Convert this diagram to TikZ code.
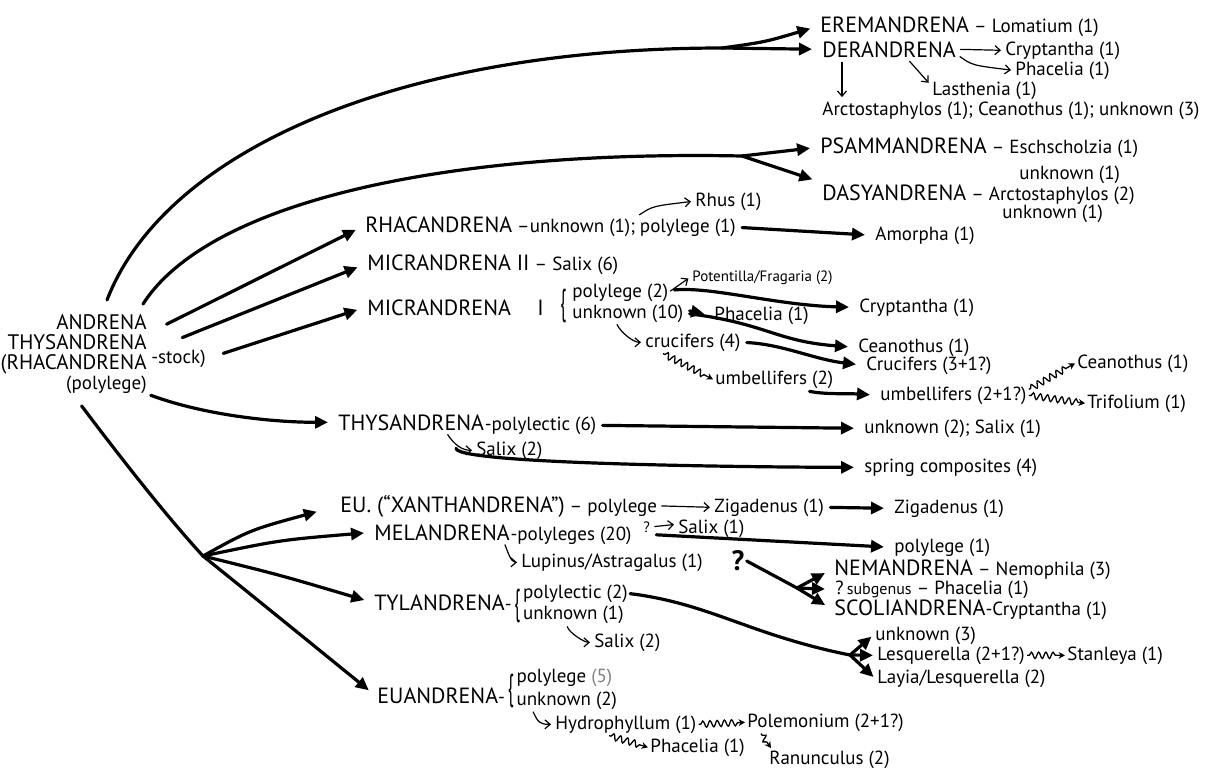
\documentclass[tikz,border=0pt]{standalone}
\usepackage{fontspec}
\setmainfont{PT Sans}
\usetikzlibrary{arrows.meta, positioning, calc, decorations.pathmorphing}

\newcommand{\grp}[1]{{\fontsize{11}{12}\selectfont #1}}
\newcommand{\lbr}{\scalebox{0.9}[1.9]{\{}}

\begin{document}
\begin{tikzpicture}[
    x=0.5pt, y=-0.5pt,
    tx/.style    = {anchor=base west, inner sep=1pt,
                    font=\fontsize{9.5}{11}\selectfont},
    pair/.style  = {tx, inner sep=0pt},
    brc/.style   = {inner sep=0pt, anchor=west,
                    font=\fontsize{9.5}{11}\selectfont},
    stem/.style  = {line width=1.6pt, line cap=round},
    limb/.style  = {stem, -{Triangle[length=6.5pt,width=6pt]},
                    shorten >=4pt, shorten <=2pt},
    twig/.style  = {line width=0.6pt,
                    -{Straight Barb[length=2.6pt,width=4.5pt]},
                    shorten >=1pt, shorten <=1pt},
    wave/.style  = {line width=0.65pt, -{Stealth[length=3.2pt,width=3.4pt]},
                    decorate, decoration={snake, amplitude=1.6pt,
                    segment length=3.6pt, pre length=1pt, post length=3.5pt}}
  ]
  \useasboundingbox (0,0) rectangle (1209,767);

  \node[align=right, anchor=north east, inner sep=0pt,
        font=\fontsize{10.5}{10}\selectfont] (root) at (147,314)
        {ANDRENA\\THYSANDRENA\\(RHACANDRENA\\{\fontsize{9.5}{10}\selectfont(polylege)}};
  \node[tx] (stock) at (149,363) {-stock)};

  \node[tx] (erem)   at (818,32)  {\grp{EREMANDRENA} -- Lomatium (1)};
  \node[tx] (der)    at (820,57)  {\grp{DERANDRENA}};
  \node[tx] (dercry) at (1003,55) {Cryptantha (1)};
  \node[tx] (derpha) at (1013,75) {Phacelia (1)};
  \node[tx] (derlas) at (930,95)  {Lasthenia (1)};
  \node[tx] (derarc) at (820,115) {Arctostaphylos (1); Ceanothus (1); unknown (3)};
  \node[tx] (psam)   at (818,153) {\grp{PSAMMANDRENA} -- Eschscholzia (1)};
  \node[tx] (psamun) at (1017,179) {unknown (1)};
  \node[tx] (dasy)   at (820,200) {\grp{DASYANDRENA} -- Arctostaphylos (2)};
  \node[tx] (dasyun) at (1000,218) {unknown (1)};

  \node[tx] (rhac)   at (363,232) {\grp{RHACANDRENA} --unknown (1);};
  \node[tx] (rhacpl) at (rhac.base east) {polylege (1)};
  \node[tx] (rhus)   at (693,206) {Rhus (1)};
  \node[tx] (amor)   at (873,240) {Amorpha (1)};

  \node[tx] (micII)  at (365,270) {\grp{MICRANDRENA II} -- Salix (6)};
  \node[tx] (micI)   at (365,315) {\grp{MICRANDRENA\hspace{1.2em}I}};
  \node[brc] (micbr) at (560,306) {\lbr};
  \node[pair] (micpl) at (572,297) {polylege (2)};
  \node[pair] (micun) at (572,318) {unknown (10)};
  \node[tx, font=\fontsize{7.5}{9}\selectfont] (pot) at (690,281) {Potentilla/Fragaria (2)};
  \node[tx] (crya)   at (857,312) {Cryptantha (1)};
  \node[tx] (phac)   at (712,320) {Phacelia (1)};
  \node[tx] (ceaa)   at (856,352) {Ceanothus (1)};
  \node[tx] (cru)    at (643,347) {crucifers (4)};
  \node[tx] (crub)   at (864,370) {Crucifers (3+1?)};
  \node[tx] (umb)    at (713,384) {umbellifers (2)};
  \node[tx] (umbb)   at (878,400) {umbellifers (2+1?)};
  \node[tx] (ceab)   at (1075,368) {Ceanothus (1)};
  \node[tx] (tri)    at (1085,408) {Trifolium (1)};

  \node[tx] (thys)   at (336,430) {\grp{THYSANDRENA}};
  \node[tx] (thyspl) at ([xshift=-2pt]thys.base east) {-polylectic (6)};
  \node[tx] (thyssal) at (474,455) {Salix (2)};
  \node[tx] (unk2)   at (862,433) {unknown (2); Salix (1)};
  \node[tx] (spring) at (862,472) {spring composites (4)};

  \node[tx] (eu)     at (338,512) {\grp{EU. (“XANTHANDRENA”)} -- polylege};
  \node[tx] (euzig)  at (712,512) {Zigadenus (1)};
  \node[tx] (euzigb) at (892,513) {Zigadenus (1)};

  \node[tx] (mel)    at (372,540) {\grp{MELANDRENA}};
  \node[tx] (melpl)  at ([xshift=-2pt]mel.base east) {-polyleges (20)};
  \node[tx, font=\fontsize{7.5}{9}\selectfont] (melq) at (641,532) {?};
  \node[tx] (melsal) at (676,533) {Salix (1)};
  \node[tx] (melpol) at (892,552) {polylege (1)};
  \node[tx] (mellup) at (519,567) {Lupinus/Astragalus (1)};
  \node[inner sep=1pt, font=\fontsize{14}{14}\selectfont\bfseries] (bigq) at (738,561) {?};
  \node[tx] (nem)    at (832,575) {\grp{NEMANDRENA} -- Nemophila (3)};
  \node[tx] (sub)    at (833,594) {?\,{\fontsize{8}{9}\selectfont subgenus} -- Phacelia (1)};
  \node[tx] (scol)   at (832,615) {\grp{SCOLIANDRENA}-Cryptantha (1)};

  \node[tx] (tyl)    at (372,610) {\grp{TYLANDRENA}-};
  \node[brc] (tylbr) at ([yshift=-2pt]tyl.east) {\lbr};
  \node[pair] (tylpl) at ([xshift=1pt,yshift=4pt]tylbr.east) {polylectic (2)};
  \node[pair] (tylun) at ([xshift=1pt,yshift=-6.8pt]tylbr.east) {unknown (1)};
  \node[tx] (tylsal) at (592,647) {Salix (2)};
  \node[tx] (tunk)   at (873,640) {unknown (3)};
  \node[tx] (tles)   at (875,660) {Lesquerella (2+1?)};
  \node[tx] (tsta)   at (1065,660) {Stanleya (1)};
  \node[tx] (tlay)   at (875,683) {Layia/Lesquerella (2)};

  \node[tx] (eua)    at (375,703) {\grp{EUANDRENA}-};
  \node[brc] (euabr) at ([yshift=2pt]eua.east) {\lbr};
  \node[pair] (euapl) at ([xshift=1pt,yshift=4.3pt]euabr.east) {polylege {\color{gray}(5)}};
  \node[pair] (euaun) at ([xshift=1pt,yshift=-7pt]euabr.east) {unknown (2)};
  \node[tx] (hyd)    at (553,729) {Hydrophyllum (1)};
  \node[tx] (pole)   at (745,727) {Polemonium (2+1?)};
  \node[tx] (epha)   at (648,752) {Phacelia (1)};
  \node[tx] (ran)    at (767,764) {Ranunculus (2)};

  \coordinate (f1) at (722,48);
  \coordinate (f2) at (742,156);
  \coordinate (f3) at (203,556);
  \coordinate (f4) at (797,588);
  \coordinate (f5) at (850,655);

  \draw[stem] ([xshift=-20pt,yshift=7pt]root.north east)
        .. controls (165,150) and (400,48) .. (f1);
  \draw[limb, shorten <=0pt] (f1) -- (der.west);
  \draw[limb, shorten <=0pt] (f1) .. controls (765,42) .. (erem.west);
  \draw[twig] (der.east) -- (dercry.west);
  \draw[twig] ([yshift=-3pt]der.east) .. controls +(14,10) .. (derpha.west);
  \draw[twig] ([xshift=11pt]der.south west) -- ([xshift=11pt]derarc.north west);
  \draw[twig] ([xshift=-25pt]der.south east) -- ([yshift=3pt]derlas.west);

  \draw[stem] ([xshift=-2pt,yshift=5pt]root.north east)
        .. controls (210,200) and (450,150) .. (f2);
  \draw[limb, shorten <=0pt] (f2) -- (psam.west);
  \draw[limb, shorten <=0pt] (f2) -- (dasy.north west);

  \draw[limb] ([xshift=8pt,yshift=-6pt]root.north east) -- (rhac.west);
  \draw[twig] (rhacpl.north west) .. controls +(15,-10) .. (rhus.west);
  \draw[limb] (rhacpl.east) -- (amor.west);

  \draw[limb] ([yshift=4pt]stock.north) -- (micII.west);
  \draw[limb, shorten <=8pt] (stock.east) -- (micI.west);
  \draw[twig] (micpl.east) -- (pot.west);
  \draw[limb] ([xshift=1pt,yshift=1pt]micpl.east) .. controls +(40,-4) and +(-80,-2) .. (crya.west);
  \draw[limb] ([xshift=1pt,yshift=-3pt]micun.north east) -- (phac.west);
  \draw[limb] ([xshift=1pt]micun.east) .. controls +(80,10) and +(-80,-6) .. (ceaa.west);
  \draw[twig] ([xshift=22pt]micun.south west) .. controls +(5,10) and +(-10,0) .. (cru.west);
  \draw[limb] (cru.east) .. controls +(40,2) and +(-50,-6) .. (crub.west);
  \draw[wave] ([xshift=10pt]cru.south west) -- (umb.west);
  \draw[limb] ([xshift=-15pt]umb.south east) .. controls +(20,4) and +(-30,-2) .. (umbb.west);
  \draw[wave] ([yshift=3pt]umbb.east) -- (ceab.west);
  \draw[wave] (umbb.east) -- (tri.west);

  \draw[limb] (root.south east) .. controls +(60,22) and +(-60,0) .. (thys.west);
  \draw[twig] ([xshift=-20pt]thys.south east) .. controls +(8,12) and +(-12,0) .. (thyssal.west);
  \draw[limb] (thyspl.east) -- (unk2.west);
  \draw[limb] ([xshift=-9pt,yshift=3pt]thyssal.west)
        .. controls +(0,22) and +(-30,0) .. (spring.west);

  \draw[stem] ([xshift=4pt,yshift=-6pt]root.south)
        .. controls (130,470) and (170,520) .. (f3);
  \draw[limb, shorten <=0pt, shorten >=11pt] (f3) .. controls (250,530) .. (eu.west);
  \draw[limb, shorten <=0pt] (f3) .. controls (280,540) .. (mel.west);
  \draw[limb, shorten <=0pt] (f3) .. controls (280,575) .. (tyl.west);
  \draw[limb, shorten <=0pt] (f3) .. controls (270,610) .. (eua.west);

  \draw[twig] (eu.east) -- (euzig.west);
  \draw[limb] (euzig.east) -- (euzigb.west);

  \draw[twig] (melq.east) -- ([yshift=2pt]melsal.west);
  \draw[limb] (melq.south east) -- (melpol.west);
  \draw[twig] ([xshift=-4pt]mel.south east) .. controls +(4,10) and +(-8,0) .. (mellup.west);
  \draw[stem] (bigq.east) -- (f4);
  \draw[limb, shorten <=0pt] (f4) -- (nem.west);
  \draw[limb, shorten <=0pt] (f4) -- (sub.west);
  \draw[limb, shorten <=0pt] (f4) -- (scol.west);

  \draw[stem] ([xshift=1pt]tylpl.east) .. controls +(80,10) and +(-100,-20) .. (f5);
  \draw[limb, shorten <=0pt, shorten >=1pt] (f5) -- (tunk.west);
  \draw[limb, shorten <=0pt, shorten >=1pt] (f5) -- (tles.west);
  \draw[limb, shorten <=0pt, shorten >=1pt] (f5) -- (tlay.west);
  \draw[twig] ([xshift=22pt]tylun.south west) .. controls +(2,8) and +(-8,0) .. (tylsal.west);
  \draw[wave] (tles.east) -- (tsta.west);

  \draw[twig] ([xshift=8pt]euaun.south west) .. controls +(6,12) and +(-14,0) .. (hyd.west);
  \draw[wave] (hyd.east) -- (pole.west);
  \draw[wave] ([xshift=28pt]hyd.south west) -- (epha.west);
  \draw[wave] ([xshift=8pt]pole.south west) -- ([xshift=2pt]ran.north west);
\end{tikzpicture}
\end{document}
